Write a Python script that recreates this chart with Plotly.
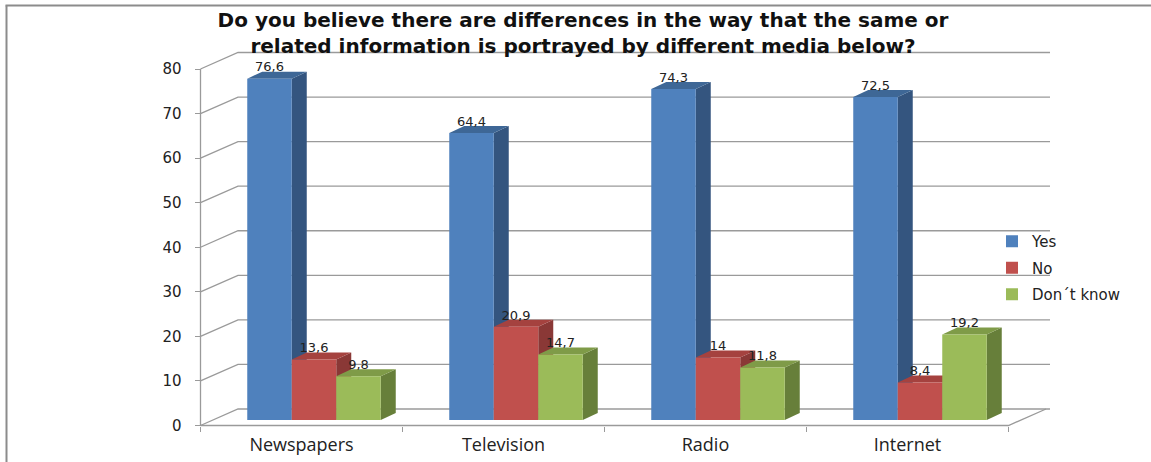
import plotly.graph_objects as go

# ---------------- data ----------------
categories = ["Newspapers", "Television", "Radio", "Internet"]
series_names = ["Yes", "No", "Don\u00b4t know"]
yes = [76.6, 64.4, 74.3, 72.5]
no = [13.6, 20.9, 14, 8.4]
dont_know = [9.8, 14.7, 11.8, 19.2]
y_ticks = [0, 10, 20, 30, 40, 50, 60, 70, 80]

series_values = [yes, no, dont_know]

# ---------------- style / geometry ----------------
front_colors = ["#4F81BD", "#C0504D", "#9BBB59"]
top_colors = ["#3E6796", "#A5423F", "#7F9B48"]
side_colors = ["#34557F", "#8A3836", "#677F3A"]
grid_color = "#9a9a9a"
text_color = "#222222"

W, H = 1151, 462
PX_CAT = 202.0       # pixels per category
PX_UNIT = 4.456      # pixels per value unit
AX_X = 200.5         # front axis pixel x
AX_Y = 425.5         # front axis zero pixel y
PL, PR, PT, PB = 190, 1050, 48, 430   # plot area in pixels

BACK_DX = 37.5 / PX_CAT          # back wall depth (x units)
BACK_DY = 16.5 / PX_UNIT         # back wall depth (y units)
BAR_W = 44.5 / PX_CAT            # bar width
BAR_SHIFT = 12.5 / PX_CAT        # bar plane shift
BAR_LIFT = 5.5 / PX_UNIT         # bar plane lift
SIDE_DX = 15.0 / PX_CAT
SIDE_DY = 7.0 / PX_UNIT
LABEL_PAD = 4.0 / PX_UNIT

x_rng = [-0.5 - (AX_X - PL) / PX_CAT, -0.5 + (PR - AX_X) / PX_CAT]
y_rng = [-(PB - AX_Y) / PX_UNIT, (AX_Y - PT) / PX_UNIT]
y2_rng = [y_rng[0] - BAR_LIFT, y_rng[1] - BAR_LIFT]
x_right = -0.5 + len(categories)

def label(v):
    return ("%g" % v).replace(".", ",")

fig = go.Figure()
shapes = []

# back wall gridlines with diagonal connectors
for t in y_ticks:
    shapes.append(dict(
        type="path", xref="x", yref="y", layer="below",
        path=f"M{-0.5},{t} L{-0.5 + BACK_DX},{t + BACK_DY} L{x_rng[1]},{t + BACK_DY}",
        line=dict(color=grid_color, width=1.3)))
# front axis line and floor
shapes.append(dict(type="line", xref="x", yref="y", layer="below",
                   x0=-0.5, y0=0, x1=-0.5, y1=y_ticks[-1],
                   line=dict(color=grid_color, width=1.3)))
shapes.append(dict(type="path", xref="x", yref="y", layer="below",
                   path=f"M{-0.5},0 L{x_right},0 L{x_right + BACK_DX},{BACK_DY}",
                   line=dict(color=grid_color, width=1.3)))

# bars: front faces as traces, top/side faces as shapes
for k, (name, vals) in enumerate(zip(series_names, series_values)):
    xs = [i + BAR_SHIFT + (k - 1) * BAR_W for i in range(len(categories))]
    fig.add_trace(go.Bar(
        x=xs, y=vals, width=BAR_W, name=name, yaxis="y2",
        marker=dict(color=front_colors[k], line=dict(width=0)),
        legendgroup=name, hovertext=categories))
    for xc, v in zip(xs, vals):
        xl, xr = xc - BAR_W / 2, xc + BAR_W / 2
        shapes.append(dict(
            type="path", xref="x", yref="y2", layer="below",
            path=(f"M{xr},0 L{xr},{v} L{xr + SIDE_DX},{v + SIDE_DY} "
                  f"L{xr + SIDE_DX},{SIDE_DY} Z"),
            fillcolor=side_colors[k], line=dict(width=0)))
        shapes.append(dict(
            type="path", xref="x", yref="y2", layer="below",
            path=(f"M{xl},{v} L{xr},{v} L{xr + SIDE_DX},{v + SIDE_DY} "
                  f"L{xl + SIDE_DX},{v + SIDE_DY} Z"),
            fillcolor=top_colors[k], line=dict(width=0)))

# data labels
for k, vals in enumerate(series_values):
    xs = [i + BAR_SHIFT + (k - 1) * BAR_W for i in range(len(categories))]
    fig.add_trace(go.Scatter(
        x=xs, y=[v + LABEL_PAD for v in vals], yaxis="y2", mode="text",
        text=[label(v) for v in vals], textposition="top center",
        textfont=dict(family="DejaVu Sans", size=13, color=text_color),
        showlegend=False, hoverinfo="skip", cliponaxis=False))

# outer chart border (top and left)
def px_to_paper_x(px):
    return (px - PL) / (PR - PL)

def px_to_paper_y(py):
    return (PB - py) / (PB - PT)

shapes.append(dict(type="line", xref="paper", yref="paper",
                   x0=px_to_paper_x(5.5), y0=px_to_paper_y(5.5),
                   x1=px_to_paper_x(W), y1=px_to_paper_y(5.5),
                   line=dict(color="#8c8c8c", width=2)))
shapes.append(dict(type="line", xref="paper", yref="paper",
                   x0=px_to_paper_x(6.5), y0=px_to_paper_y(5.5),
                   x1=px_to_paper_x(6.5), y1=px_to_paper_y(H),
                   line=dict(color="#8c8c8c", width=2)))

fig.update_layout(
    width=W, height=H,
    margin=dict(l=PL, r=W - PR, t=PT, b=H - PB, pad=0, autoexpand=False),
    paper_bgcolor="white", plot_bgcolor="rgba(0,0,0,0)",
    barmode="overlay",
    shapes=shapes,
    title=dict(
        text="Do you believe there are differences in the way that the same or<br>"
             "related information is portrayed by different media below?",
        x=583 / W, xanchor="center", xref="container",
        y=1 - 27 / H, yanchor="middle", yref="container", automargin=False,
        font=dict(family="DejaVu Sans", size=20, color="#111111", weight="bold")),
    xaxis=dict(
        range=x_rng, showgrid=False, zeroline=False, showline=False,
        anchor="free", position=(PB - AX_Y) / (PB - PT), automargin=False,
        tickmode="array", tickvals=list(range(len(categories))), ticktext=categories,
        ticks="", tickfont=dict(family="Open Sans", size=18, color=text_color),
        ticklabelstandoff=6,
        minor=dict(tickmode="array",
                   tickvals=[i - 0.5 for i in range(len(categories) + 1)],
                   ticks="outside", ticklen=5, tickcolor=grid_color,
                   tickwidth=1.3, showgrid=False)),
    yaxis=dict(
        range=y_rng, showgrid=False, zeroline=False, showline=False,
        anchor="free", position=(AX_X - PL) / (PR - PL), automargin=False,
        tickmode="array", tickvals=y_ticks,
        ticks="outside", ticklen=6, tickcolor=grid_color, tickwidth=1.3,
        ticklabelstandoff=10,
        tickfont=dict(family="DejaVu Sans", size=15, color=text_color)),
    yaxis2=dict(range=y2_rng, overlaying="y", visible=False, anchor="x",
                automargin=False),
    legend=dict(
        x=px_to_paper_x(992), y=px_to_paper_y(225), xanchor="left", yanchor="top",
        bgcolor="rgba(0,0,0,0)", tracegroupgap=4,
        font=dict(family="DejaVu Sans", size=15, color=text_color)),
    showlegend=True,
)

fig.write_html("out.html", config={"displayModeBar": False},
               post_script="document.body.style.margin='0';")
